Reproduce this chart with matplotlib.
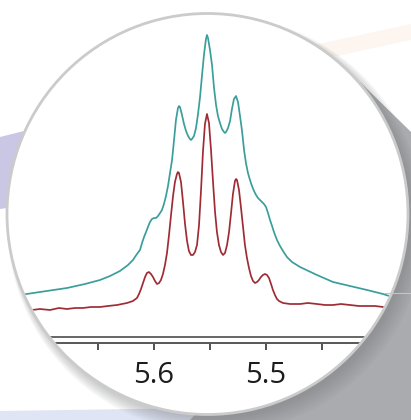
import matplotlib
matplotlib.use("Agg")
import matplotlib.pyplot as plt
from matplotlib.patches import Circle, Polygon
from matplotlib.ticker import FixedLocator, FixedFormatter

# Spectra: chemical shift (ppm) and intensity (a.u.)
teal_ppm = [5.7196, 5.7018, 5.6777, 5.6616, 5.6482, 5.6393, 5.6304, 5.6232,
            5.6188, 5.6152, 5.6125, 5.6107, 5.6089, 5.6071, 5.6054, 5.6036,
            5.6018, 5.6000, 5.5982, 5.5964, 5.5946, 5.5929, 5.5911, 5.5893,
            5.5875, 5.5857, 5.5839, 5.5821, 5.5804, 5.5786, 5.5777, 5.5768,
            5.5750, 5.5732, 5.5714, 5.5696, 5.5679, 5.5670, 5.5661, 5.5643,
            5.5625, 5.5607, 5.5589, 5.5571, 5.5554, 5.5536, 5.5527, 5.5518,
            5.5500, 5.5482, 5.5464, 5.5446, 5.5429, 5.5411, 5.5393, 5.5375,
            5.5366, 5.5357, 5.5339, 5.5321, 5.5304, 5.5286, 5.5268, 5.5250,
            5.5232, 5.5214, 5.5196, 5.5179, 5.5161, 5.5143, 5.5125, 5.5107,
            5.5089, 5.5071, 5.5054, 5.5036, 5.5018, 5.5000, 5.4982, 5.4964,
            5.4946, 5.4929, 5.4902, 5.4875, 5.4848, 5.4813, 5.4768, 5.4696,
            5.4545, 5.4402, 5.4250, 5.4098, 5.3955, 5.3848]
teal_int = [25, 28, 32, 36, 40, 44, 49, 55,
            60, 66, 70, 77, 83, 88, 93, 98,
            101, 102, 102, 104, 107, 110, 116, 124,
            134, 147, 160, 180, 200, 212, 214, 213,
            205, 196, 189, 184, 181, 180, 181, 184,
            192, 206, 223, 245, 265, 281, 285, 282,
            270, 255, 232, 215, 204, 197, 191, 188,
            187, 188, 192, 199, 211, 221, 224, 218,
            204, 189, 170, 157, 147, 140, 134, 129,
            125, 122, 120, 118, 116, 113, 107, 100,
            94, 88, 80, 74, 69, 63, 58, 53,
            45, 38, 34, 30, 26, 22]

red_ppm = [5.7089, 5.7018, 5.6929, 5.6848, 5.6777, 5.6705, 5.6634, 5.6563,
           5.6482, 5.6411, 5.6330, 5.6241, 5.6188, 5.6152, 5.6134, 5.6116,
           5.6098, 5.6080, 5.6063, 5.6045, 5.6027, 5.6009, 5.5991, 5.5973,
           5.5955, 5.5938, 5.5920, 5.5902, 5.5884, 5.5866, 5.5848, 5.5830,
           5.5813, 5.5795, 5.5786, 5.5777, 5.5759, 5.5741, 5.5723, 5.5705,
           5.5688, 5.5670, 5.5652, 5.5634, 5.5616, 5.5598, 5.5580, 5.5563,
           5.5545, 5.5527, 5.5509, 5.5491, 5.5473, 5.5455, 5.5438, 5.5420,
           5.5402, 5.5384, 5.5366, 5.5348, 5.5330, 5.5313, 5.5295, 5.5277,
           5.5268, 5.5259, 5.5241, 5.5223, 5.5205, 5.5188, 5.5170, 5.5152,
           5.5134, 5.5116, 5.5098, 5.5080, 5.5063, 5.5045, 5.5027, 5.5009,
           5.4991, 5.4973, 5.4955, 5.4938, 5.4920, 5.4902, 5.4884, 5.4866,
           5.4848, 5.4786, 5.4696, 5.4625, 5.4545, 5.4473, 5.4402, 5.4330,
           5.4250, 5.4170, 5.4098, 5.4027, 5.3955, 5.3848]
red_int = [10, 11, 10, 12, 11, 12, 12, 13,
           13, 14, 15, 17, 19, 22, 26, 31,
           37, 43, 47, 48, 46, 43, 39, 36,
           37, 40, 46, 55, 67, 85, 105, 124,
           138, 146, 148, 147, 138, 118, 96, 79,
           69, 65, 65, 68, 75, 95, 130, 168,
           196, 206, 197, 170, 138, 108, 88, 75,
           68, 65, 67, 75, 88, 106, 126, 139,
           141, 140, 130, 112, 93, 75, 62, 52,
           44, 39, 37, 38, 40, 43, 45, 46,
           45, 42, 36, 30, 25, 21, 19, 18,
           17, 16, 16, 17, 16, 15, 15, 16,
           15, 14, 14, 14, 13, 13]

major_ticks = [5.6, 5.5]
major_labels = ["5.6", "5.5"]
minor_ticks = [5.65, 5.55, 5.45]

W, H = 411, 420
fig = plt.figure(figsize=(W / 100, H / 100), dpi=100)

# background decoration in pixel coordinates
bg = fig.add_axes([0, 0, 1, 1])
bg.set_xlim(0, W)
bg.set_ylim(H, 0)
bg.axis("off")

bg.add_patch(Polygon([(0, 137), (60, 122), (60, 200), (0, 209)], closed=True,
                     fc="#c9c7e3", ec="none"))
bg.add_patch(Polygon([(300, 48), (411, 24), (411, 40), (300, 64)], closed=True,
                     fc="#fdf6f0", ec="none"))
bg.add_patch(Polygon([(0, 411), (200, 408), (200, 420), (0, 420)], closed=True,
                     fc="#dfe5f4", ec="none"))
bg.add_patch(Polygon([(360, 82), (411, 132), (411, 420), (190, 420), (300, 300)],
                     closed=True, fc="#a9abae", ec="none"))
bg.plot([385, 411], [293, 293], color="#c4c5c7", lw=0.8)

cx, cy, r = 207.5, 214, 200.5
for k in range(8):
    bg.add_patch(Circle((cx + 3 + k * 0.8, cy + 4 + k * 0.9), r + k * 1.2,
                        fc="#6d6f72", ec="none", alpha=0.05))
bg.add_patch(Circle((cx, cy), r, fc="white", ec="#cbcbcb", lw=2.0))

clip = Circle((cx, cy), r - 1.5, transform=bg.transData)

# spectrum axes: bottom edge at pixel row 344
ax = fig.add_axes([0, 76 / H, 1, 344 / H])
ax.patch.set_visible(False)
ax.set_xlim(5.6 + 154 / 1120, 5.6 - 257 / 1120)
ax.set_ylim(-24, 320)

l1, = ax.plot(teal_ppm, teal_int, color="#3a9e9b", lw=1.25, solid_joinstyle="round")
l2, = ax.plot(red_ppm, red_int, color="#9f2c35", lw=1.25, solid_joinstyle="round")
l3 = ax.axhline(-16.5, color="#5a5a5a", lw=1.3)
l4 = ax.axhline(-22.6, color="#4a4a4a", lw=1.3)
for a in (l1, l2, l3, l4):
    a.set_clip_path(clip)

for s in ax.spines.values():
    s.set_visible(False)

ax.xaxis.set_major_locator(FixedLocator(major_ticks))
ax.xaxis.set_major_formatter(FixedFormatter(major_labels))
ax.xaxis.set_minor_locator(FixedLocator(minor_ticks))
ax.tick_params(axis="x", which="both", direction="out", length=4, width=1.2,
               color="#333333", pad=8)
ax.tick_params(axis="x", which="major", labelsize=21, labelcolor="#1c1c1c")
for t in ax.get_xticklabels():
    t.set_family(["Open Sans", "DejaVu Sans"])
ax.set_yticks([])

fig.savefig("out.png", dpi=100)
